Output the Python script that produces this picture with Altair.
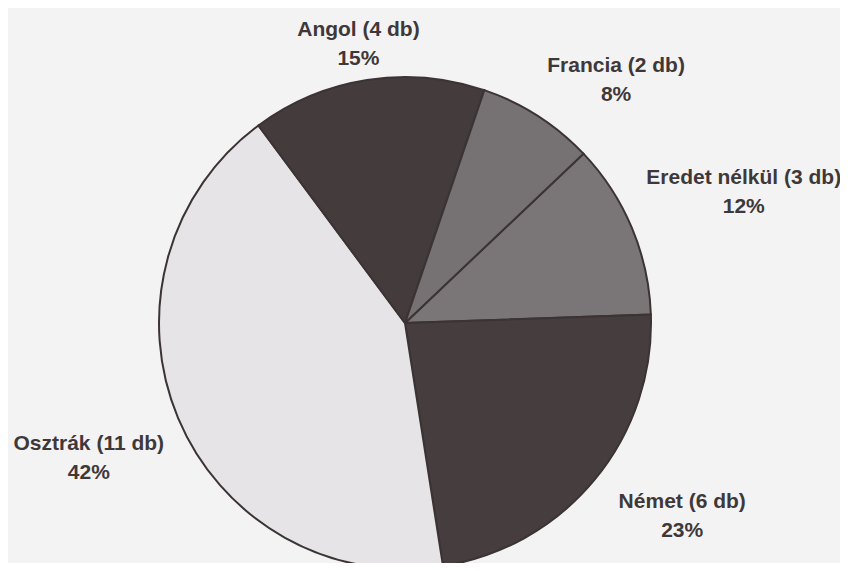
import math
import altair as alt
import pandas as pd

# --- data ---
categories = ["Eredet nélkül", "Német", "Osztrák", "Angol", "Francia"]
counts = [3, 6, 11, 4, 2]
percents = ["12%", "23%", "42%", "15%", "8%"]
order_idx = [0, 1, 2, 3, 4]

# --- styling ---
slice_colors = ["#7a7677", "#453d3e", "#e6e4e6", "#433b3c", "#767273"]
label_style = {
    # category: (radius, dx, dy)
    "Eredet nélkül": (364, 3, -4),
    "Német": (335, 19, -34),
    "Osztrák": (345, 2, -12),
    "Angol": (282, -3, -14),
    "Francia": (293, 53, -10),
}

total = sum(counts)
start = math.radians(46.5)
theta_scale = alt.Scale(domain=[0, total], range=[start, start + 2 * math.pi])

df = pd.DataFrame({
    "cat": categories,
    "n": counts,
    "pct": percents,
    "idx": order_idx,
})
df["label"] = [f"{c} ({n} db)\n{p}" for c, n, p in zip(categories, counts, percents)]

W, H = 832, 555
cx, cy = 397, 315

base = alt.Chart(df)

pie = base.mark_arc(radius=246, stroke="#3b3334", strokeWidth=2).encode(
    theta=alt.Theta("n:Q", stack=True, scale=theta_scale),
    order=alt.Order("idx:Q"),
    color=alt.Color("cat:N", scale=alt.Scale(domain=categories, range=slice_colors), legend=None),
    x=alt.value(cx),
    y=alt.value(cy),
)

layers = [pie]
for c in categories:
    r, dx, dy = label_style[c]
    t = base.transform_window(
        cum="sum(n)", sort=[alt.SortField("idx")]
    ).transform_calculate(
        mid="datum.cum - datum.n / 2"
    ).transform_filter(
        alt.datum.cat == c
    ).mark_text(
        radius=r, dx=dx, dy=dy, lineBreak="\n", lineHeight=29,
        font="Liberation Sans", fontWeight="bold", fontSize=21,
        color="#3f3839", align="center", baseline="middle",
    ).encode(
        theta=alt.Theta("mid:Q", stack=None, scale=theta_scale),
        text="label:N",
        x=alt.value(cx),
        y=alt.value(cy),
    )
    layers.append(t)

chart = alt.layer(*layers).properties(
    width=W, height=H, autosize="none", padding=0, background="#f4f3f4"
).configure_view(stroke=None)

chart.save("out.html", embed_options={"renderer": "svg", "actions": False})
